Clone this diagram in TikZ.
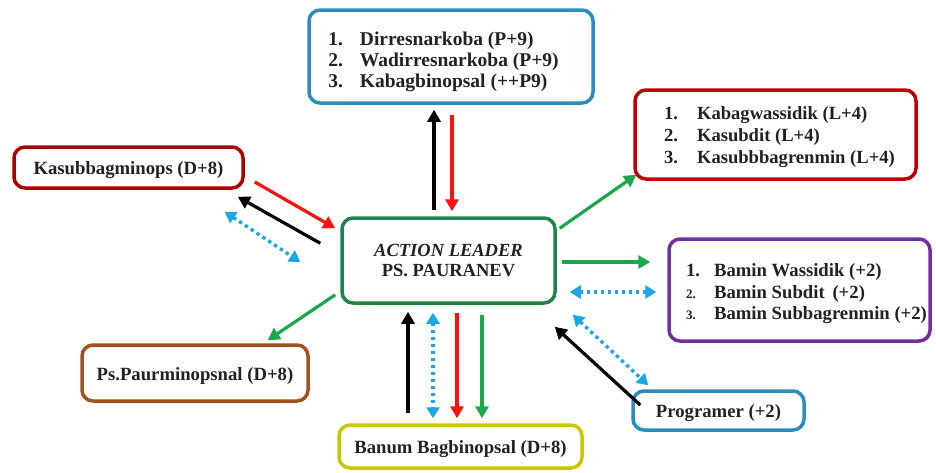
\documentclass[tikz,border=0pt]{standalone}
\usepackage{fontspec}
\setmainfont{Liberation Serif}
\usetikzlibrary{calc,arrows.meta}
\definecolor{boxblue}{HTML}{2A8DC0}
\definecolor{boxred}{HTML}{C00000}
\definecolor{boxpurple}{HTML}{7030A0}
\definecolor{boxgreen}{HTML}{1E8449}
\definecolor{boxbrown}{HTML}{A0521E}
\definecolor{boxyellow}{HTML}{C8C800}
\definecolor{argreen}{HTML}{1BA84C}
\definecolor{arcyan}{HTML}{1EA7E8}
\definecolor{arred}{HTML}{FF1010}
\definecolor{txt}{HTML}{222222}
\newcommand{\lowr}[2]{\raisebox{-#1}[\height][\depth]{#2}}
\begin{document}
\begin{tikzpicture}[x=1pt,y=-1pt,
  box/.style={draw,line width=3.5pt,rounded corners=11pt,fill=white,inner sep=0pt,
    font=\fontsize{18.7}{21.5}\selectfont\bfseries,text=txt},
  arw/.style={line width=3.2pt,-{Triangle[length=12pt,width=13pt]}},
  blkarrow/.style={arw,black},
  redarrow/.style={arw,arred},
  grnarrow/.style={arw,argreen},
  cyanarrow/.style={line width=3.4pt,arcyan,dash pattern=on 3.4pt off 3.6pt,
    {Triangle[length=11pt,width=13pt]}-{Triangle[length=11pt,width=13pt]}}
]
\useasboundingbox (0,0) rectangle (936,472);

% boxes
\node[box,draw=boxblue,minimum width=284pt,minimum height=93pt,
  font=\fontsize{19.5}{20.7}\selectfont\bfseries] (T) at (451,56.5)
  {\lowr{6pt}{\begin{tabular}{@{}l@{\hspace{17pt}}l@{\hspace{15pt}}}
   1. & Dirresnarkoba (P+9)\\
   2. & Wadirresnarkoba (P+9)\\
   3. & Kabagbinopsal (++P9)
   \end{tabular}}};
\node[box,draw=boxred,minimum width=281pt,minimum height=89pt,
  font=\fontsize{18.6}{22}\selectfont\bfseries] (R) at (775.5,134.5)
  {\lowr{3pt}{\begin{tabular}{@{\hspace{8pt}}l@{\hspace{19pt}}l@{}}
   1. & Kabagwassidik (L+4)\\
   2. & Kasubdit (L+4)\\
   3. & Kasubbbagrenmin (L+4)
   \end{tabular}}};
\node[box,draw=boxpurple,minimum width=261pt,minimum height=102pt,
  font=\fontsize{18.7}{21.5}\selectfont\bfseries] (P) at (799.5,290)
  {\lowr{4pt}{\begin{tabular}{@{\hspace{14pt}}l@{\hspace{14pt}}l@{}}
   1. & Bamin Wassidik (+2)\\
   {\fontsize{13}{21.5}\selectfont 2.} & Bamin Subdit\, (+2)\\
   {\fontsize{13}{21.5}\selectfont 3.} & Bamin Subbagrenmin (+2)
   \end{tabular}}};
\node[box,draw=boxred!90!black,minimum width=229pt,minimum height=41pt] (L) at (128.5,167.5)
  {\lowr{3pt}{Kasubbagminops (D+8)}};
\node[box,draw=boxgreen,minimum width=213pt,minimum height=85pt,
  font=\fontsize{18.5}{20.5}\selectfont\bfseries] (C) at (448.5,260.5)
  {\lowr{2pt}{\begin{tabular}{@{}c@{}}\textit{ACTION LEADER}\\PS. PAURANEV\end{tabular}}};
\node[box,draw=boxbrown,minimum width=226pt,minimum height=56pt] (B) at (195,373)
  {\lowr{3pt}{Ps.Paurminopsnal (D+8)}};
\node[box,draw=boxyellow,minimum width=243pt,minimum height=43pt] (Y) at (460.5,446.5)
  {\lowr{3pt}{Banum Bagbinopsal (D+8)}};
\node[box,draw=boxblue,minimum width=171pt,minimum height=39pt] (G) at (718.5,410.5)
  {\lowr{3pt}{Programer (+2)}};

% top
\draw[blkarrow] ($(C.north)+(-14.5,-6)$) -- ($(T.south)+(-17,5)$);
\draw[redarrow] ($(T.south)+(1,10)$) -- ($(C.north)+(3.5,-5)$);
% left
\draw[redarrow] ($(L.east)+(10,14.5)$) -- ($(C.north west)+(-5,12)$);
\draw[blkarrow] ($(C.north west)+(-20,27)$) -- ($(L.south east)+(-7,7)$);
\draw[cyanarrow] ($(L.south east)+(-20,22)$) -- ($(C.west)+(-40,1.5)$);
% right
\draw[grnarrow] ($(C.north east)+(3,12)$) -- ($(R.south west)+(3,-6)$);
\draw[grnarrow] ($(C.east)+(5,1.5)$) -- ($(P.west)+(-17,-28)$);
\draw[cyanarrow] ($(C.east)+(13,31.5)$) -- ($(P.west)+(-11,2)$);
\draw[cyanarrow] ($(C.south east)+(16,10)$) -- ($(G.north west)+(17,-4)$);
\draw[blkarrow] ($(G.west)+(9,-5.5)$) -- ($(C.south east)+(-2,22)$);
% lower left
\draw[grnarrow] ($(C.south west)+(-5,-10)$) -- ($(B.north east)+(-42,-3)$);
% bottom
\draw[blkarrow] ($(Y.north)+(-52.5,-10)$) -- ($(C.south)+(-40.5,7)$);
\draw[cyanarrow] ($(C.south)+(-15.5,8)$) -- ($(Y.north)+(-27.5,-5)$);
\draw[redarrow] ($(C.south)+(8.5,8)$) -- ($(Y.north)+(-3.5,-5)$);
\draw[grnarrow] ($(C.south)+(33.5,10)$) -- ($(Y.north)+(21.5,-5)$);
\end{tikzpicture}
\end{document}
